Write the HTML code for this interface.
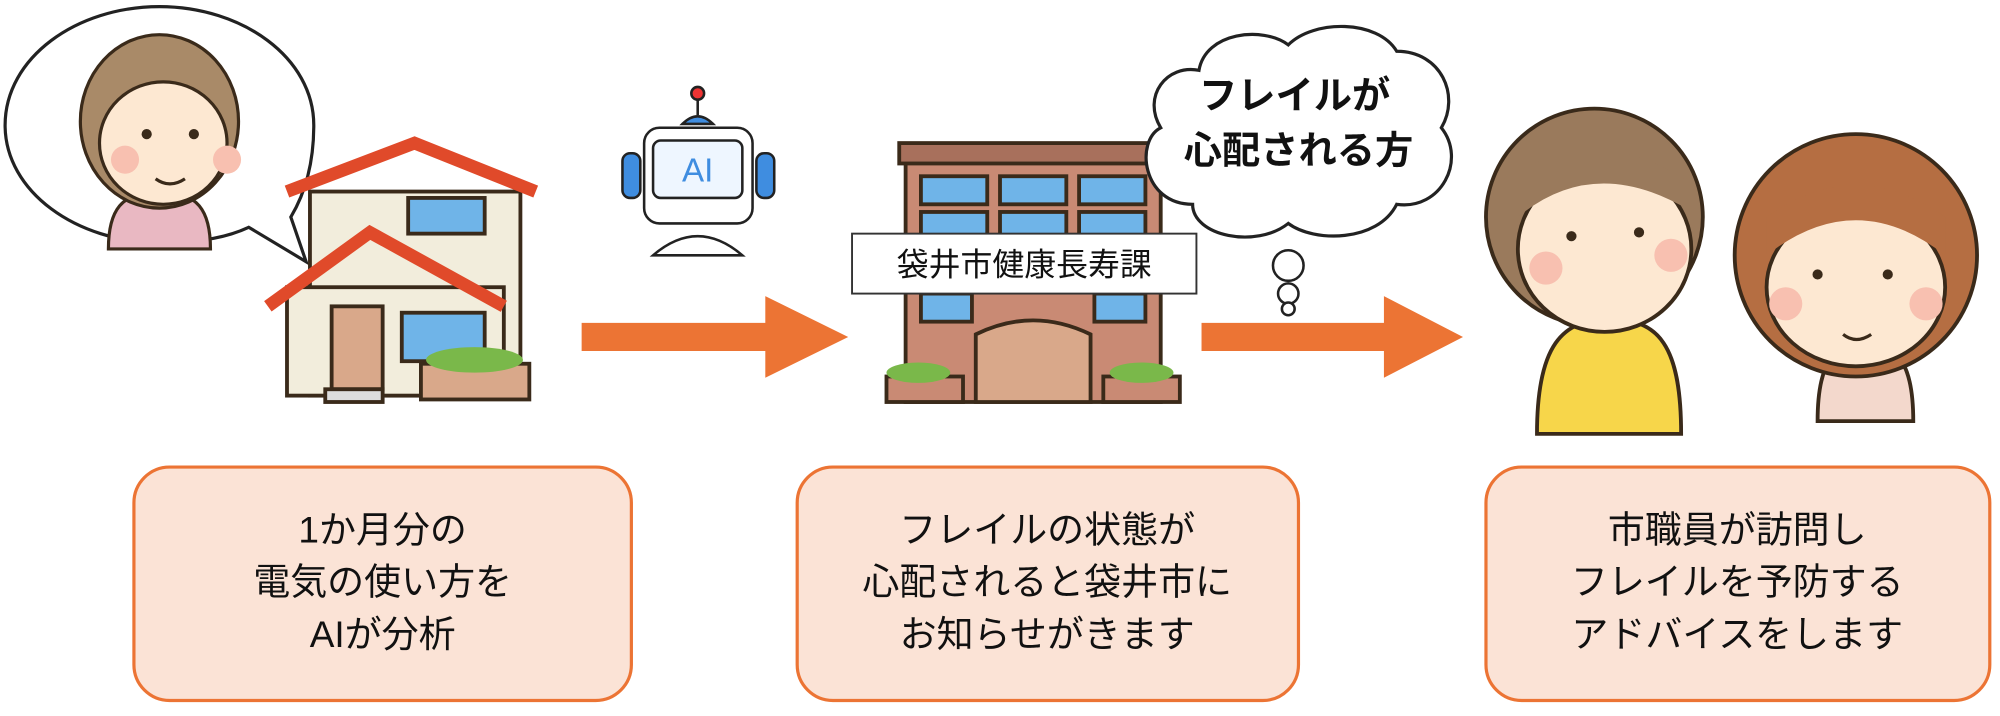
<!DOCTYPE html>
<html><head><meta charset="utf-8"><style>
html,body{margin:0;padding:0;background:#fff;width:2000px;height:716px;overflow:hidden}
svg text{font-family:"Liberation Sans","Noto Sans CJK JP",sans-serif}
</style></head><body>
<svg width="2000" height="716" viewBox="0 0 1568 561" xmlns="http://www.w3.org/2000/svg">
<path d="M125,5 C60,5 4,45 4,98 C4,150 60,190 125,190 C160,190 180,185 195,178 L240,205 L228,170 C240,150 246,125 246,98 C246,45 190,5 125,5Z" fill="#fff" stroke="#222" stroke-width="2.5"/>
<g stroke="#3a2a1a" stroke-width="2.5">
<path d="M85,195 C85,165 95,150 125,150 C155,150 165,165 165,195Z" fill="#e9b8c2"/>
<ellipse cx="125" cy="95" rx="62" ry="68" fill="#a98a68"/>
<ellipse cx="128" cy="112" rx="50" ry="48" fill="#fde8d2"/>
</g>
<circle cx="98" cy="125" r="11" fill="#f8c0b0"/><circle cx="178" cy="125" r="11" fill="#f8c0b0"/>
<circle cx="115" cy="105" r="4" fill="#3a2a1a"/><circle cx="152" cy="105" r="4" fill="#3a2a1a"/>
<path d="M122,140 Q133,148 145,140" stroke="#3a2a1a" stroke-width="2.5" fill="none"/>
<g stroke="#3a2a1a" stroke-width="3">
<rect x="243" y="150" width="165" height="160" fill="#f2eddc"/>
<path d="M225,150 L325,112 L420,150" fill="none" stroke="#e04a2a" stroke-width="10"/>
<rect x="225" y="225" width="170" height="85" fill="#f2eddc"/>
<path d="M210,240 L290,182 L395,240" fill="none" stroke="#e04a2a" stroke-width="10"/>
<rect x="260" y="240" width="40" height="65" fill="#d9a88a"/>
<rect x="315" y="245" width="65" height="38" fill="#6fb4e8"/>
<rect x="320" y="155" width="60" height="28" fill="#6fb4e8"/>
<rect x="330" y="285" width="85" height="28" fill="#d9a88a"/>
<rect x="255" y="305" width="45" height="10" fill="#ddd"/>
</g>
<ellipse cx="372" cy="282" rx="38" ry="10" fill="#7ab84a"/>
<path d="M456,253 H600 V232 L665,264 L600,296 V275 H456Z" fill="#ec7434"/>
<g stroke="#222" stroke-width="2">
<line x1="547" y1="75" x2="547" y2="90"/>
<circle cx="547" cy="73" r="5" fill="#e33"/>
<path d="M535,97 Q547,85 559,97Z" fill="#3f8de0"/>
<rect x="505" y="100" width="85" height="75" rx="12" fill="#fff"/>
<rect x="488" y="120" width="14" height="35" rx="6" fill="#3f8de0"/>
<rect x="593" y="120" width="14" height="35" rx="6" fill="#3f8de0"/>
<rect x="512" y="110" width="70" height="45" rx="6" fill="#eef6ff"/>
<path d="M512,200 Q547,170 582,200Z" fill="#fff"/>
</g>
<text x="547" y="142" font-size="26" fill="#3f8de0" text-anchor="middle">AI</text>
<g stroke="#3a2a1a" stroke-width="3">
<rect x="710" y="115" width="200" height="200" fill="#c98a74"/>
<rect x="705" y="112" width="210" height="16" fill="#a8705c"/>
<g fill="#6fb4e8">
<rect x="722" y="138" width="52" height="22"/><rect x="784" y="138" width="52" height="22"/><rect x="846" y="138" width="52" height="22"/>
<rect x="722" y="166" width="52" height="22"/><rect x="784" y="166" width="52" height="22"/><rect x="846" y="166" width="52" height="22"/>
<rect x="722" y="230" width="40" height="22"/><rect x="858" y="230" width="40" height="22"/>
</g>
<path d="M765,315 V262 Q810,240 855,262 V315Z" fill="#d9a88a"/>
<rect x="695" y="295" width="60" height="20" fill="#c98a74"/>
<rect x="865" y="295" width="60" height="20" fill="#c98a74"/>
</g>
<ellipse cx="720" cy="292" rx="25" ry="8" fill="#7ab84a"/><ellipse cx="895" cy="292" rx="25" ry="8" fill="#7ab84a"/>
<rect x="668" y="183" width="270" height="47" fill="#fff" stroke="#333" stroke-width="1.5"/>
<text x="803" y="216" font-size="25" text-anchor="middle" fill="#111">袋井市健康長寿課</text>
<path d="M940,55 C945,25 990,20 1010,35 C1030,15 1080,15 1095,40 C1130,40 1145,75 1130,100 C1150,125 1130,165 1095,160 C1080,190 1030,190 1010,175 C985,195 935,185 935,160 C895,160 890,110 910,100 C895,75 915,50 940,55Z" fill="#fff" stroke="#222" stroke-width="2.5"/>
<circle cx="1010" cy="208" r="12" fill="#fff" stroke="#222" stroke-width="2"/>
<circle cx="1010" cy="230" r="8" fill="#fff" stroke="#222" stroke-width="2"/>
<circle cx="1010" cy="242" r="5" fill="#fff" stroke="#222" stroke-width="2"/>
<text x="1015" y="85" font-size="30" font-weight="bold" text-anchor="middle" fill="#111">フレイルが</text>
<text x="1018" y="128" font-size="30" font-weight="bold" text-anchor="middle" fill="#111">心配される方</text>
<path d="M942,253 H1085 V232 L1147,264 L1085,296 V275 H942Z" fill="#ec7434"/>
<g stroke="#3a2a1a" stroke-width="3">
<path d="M1205,340 C1205,270 1225,250 1262,250 C1300,250 1318,270 1318,340Z" fill="#f7d64a"/>
<ellipse cx="1250" cy="170" rx="85" ry="85" fill="#9a7a5c"/>
<ellipse cx="1258" cy="195" rx="68" ry="65" fill="#fde8d2"/>
<path d="M1425,330 C1425,280 1440,270 1462,270 C1485,270 1500,280 1500,330Z" fill="#f3d8cc"/>
<ellipse cx="1455" cy="200" rx="95" ry="95" fill="#b56e42"/>
<ellipse cx="1455" cy="225" rx="70" ry="62" fill="#fde8d2"/>
</g>
<path d="M1190,170 Q1250,120 1325,165 L1320,140 Q1250,95 1180,140Z" fill="#9a7a5c"/>
<path d="M1385,200 Q1455,145 1525,200 L1525,170 Q1455,120 1385,170Z" fill="#b56e42"/>
<circle cx="1212" cy="210" r="13" fill="#f8c0b0"/><circle cx="1310" cy="200" r="13" fill="#f8c0b0"/>
<circle cx="1400" cy="238" r="13" fill="#f8c0b0"/><circle cx="1510" cy="238" r="13" fill="#f8c0b0"/>
<circle cx="1232" cy="185" r="4" fill="#3a2a1a"/><circle cx="1285" cy="182" r="4" fill="#3a2a1a"/>
<circle cx="1425" cy="215" r="4" fill="#3a2a1a"/><circle cx="1480" cy="215" r="4" fill="#3a2a1a"/>
<path d="M1445,262 Q1455,270 1467,262" stroke="#3a2a1a" stroke-width="2.5" fill="none"/>
<g fill="#fbe3d6" stroke="#ec7434" stroke-width="2.5">
<rect x="105" y="366" width="390" height="183" rx="28"/>
<rect x="625" y="366" width="393" height="183" rx="28"/>
<rect x="1165" y="366" width="395" height="183" rx="28"/>
</g>
<g font-size="29" fill="#111" text-anchor="middle">
<text x="300" y="425">1か月分の</text><text x="300" y="466">電気の使い方を</text><text x="300" y="507">AIが分析</text>
<text x="821" y="425">フレイルの状態が</text><text x="821" y="466">心配されると袋井市に</text><text x="821" y="507">お知らせがきます</text>
<text x="1362" y="425">市職員が訪問し</text><text x="1362" y="466">フレイルを予防する</text><text x="1362" y="507">アドバイスをします</text>
</g>
</svg>
</body></html>
